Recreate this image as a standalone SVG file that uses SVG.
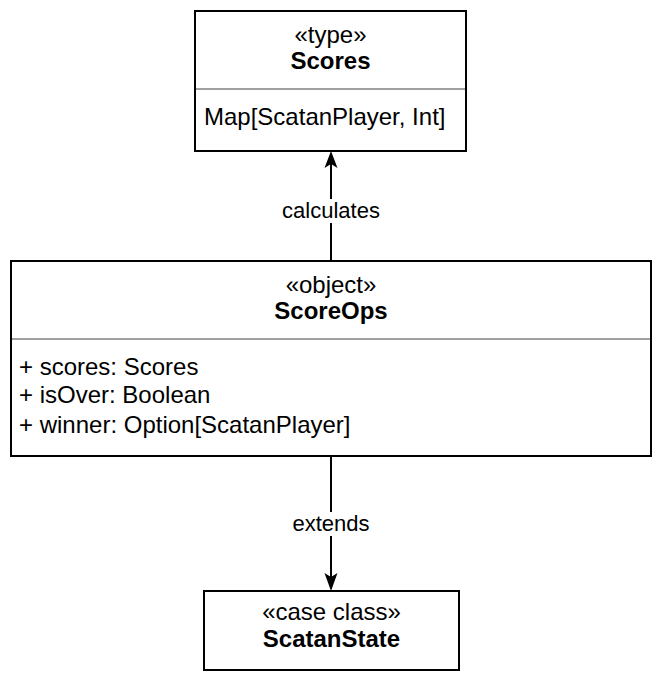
<svg xmlns="http://www.w3.org/2000/svg" width="662" height="682" viewBox="0 0 662 682">
<defs>
<style>
.box{fill:#fff;stroke:#000;stroke-width:2}
.div{stroke:#a0a0a0;stroke-width:2}
.t{font-family:"Liberation Sans",Arial,Helvetica,sans-serif;font-size:24px;fill:#000}
.l{font-family:"Liberation Sans",Arial,Helvetica,sans-serif;font-size:22px;fill:#000;text-anchor:middle}
.c{text-anchor:middle}
.b{font-weight:bold}
.edge{stroke:#000;stroke-width:2;fill:none}
.head{fill:#000}
.lbl{fill:#fff}
</style>
</defs>
<rect width="662" height="682" fill="#fff"/>
<g id="connectors">
<line class="edge" x1="331" y1="261" x2="331" y2="158"/>
<path class="head" d="M331,151 L337.5,168 L331,164 L324.5,168 Z"/>
<rect class="lbl" x="280" y="199" width="102" height="24"/>
<text class="l" x="331" y="218">calculates</text>
<line class="edge" x1="331" y1="456" x2="331" y2="584"/>
<path class="head" d="M331,591 L324.5,573 L331,577 L337.5,573 Z"/>
<rect class="lbl" x="288" y="512" width="86" height="24"/>
<text class="l" x="331" y="531">extends</text>
</g>
<g id="scores">
<rect class="box" x="195" y="11" width="271" height="140"/>
<line class="div" x1="196" y1="89" x2="465" y2="89"/>
<text class="t c" x="330.5" y="43">«type»</text>
<text class="t c b" x="330.5" y="69">Scores</text>
<text class="t" x="204" y="125">Map[ScatanPlayer, Int]</text>
</g>
<g id="scoreops">
<rect class="box" x="11" y="261" width="640" height="195"/>
<line class="div" x1="12" y1="339" x2="650" y2="339"/>
<text class="t c" x="331" y="293">«object»</text>
<text class="t c b" x="331" y="319">ScoreOps</text>
<text class="t" x="19" y="375">+ scores: Scores</text>
<text class="t" x="19" y="403">+ isOver: Boolean</text>
<text class="t" x="19" y="433">+ winner: Option[ScatanPlayer]</text>
</g>
<g id="scatanstate">
<rect class="box" x="204" y="591" width="255" height="79"/>
<text class="t c" x="331.5" y="620">«case class»</text>
<text class="t c b" x="331.5" y="647">ScatanState</text>
</g>
</svg>
